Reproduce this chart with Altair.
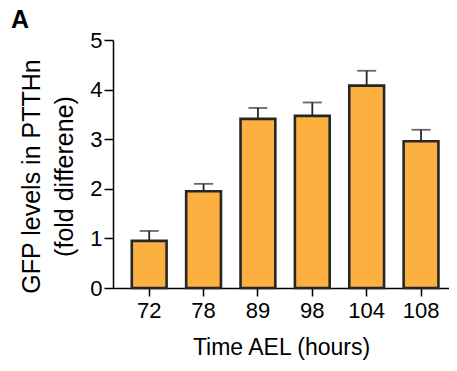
import altair as alt
import pandas as pd

times = ["72", "78", "89", "98", "104", "108"]
means = [0.95, 1.95, 3.41, 3.47, 4.08, 2.96]
upper = [1.15, 2.10, 3.63, 3.74, 4.38, 3.19]

df = pd.DataFrame({"time": times, "mean": means, "upper": upper})

FONT = "Liberation Sans"
DARK = "#262626"

x = alt.X(
    "time:N",
    sort=times,
    scale=alt.Scale(paddingInner=0.36, paddingOuter=0.27, align=0.64),
    axis=alt.Axis(
        title="Time AEL (hours)",
        labelAngle=0,
        labelAlign="center",
        labelBaseline="top",
        labelFontSize=22,
        labelFont=FONT,
        labelColor="#000000",
        labelPadding=4,
        titleFontSize=23,
        titleFont=FONT,
        titleFontWeight="normal",
        titleColor="#000000",
        titlePadding=15,
        tickSize=8,
        tickWidth=1.5,
        tickColor="#000000",
        domainColor="#000000",
        domainWidth=1.5,
    ),
)

y_axis = alt.Axis(
    title=["GFP levels in PTTHn", "(fold differene)"],
    values=[0, 1, 2, 3, 4, 5],
    grid=False,
    labelFontSize=22,
    labelFont=FONT,
    labelColor="#000000",
    labelPadding=2,
    titleFontSize=25,
    titleFont=FONT,
    titleFontWeight="normal",
    titleColor="#000000",
    titleLineHeight=33,
    titlePadding=12,
    titleY=136,
    tickSize=9,
    tickWidth=1.5,
    tickColor="#000000",
    domainColor="#000000",
    domainWidth=1.5,
)

bars = alt.Chart(df).mark_bar(
    color="#FBB040", stroke=DARK, strokeWidth=2.6
).encode(
    x=x,
    y=alt.Y("mean:Q", scale=alt.Scale(domain=[0, 5], nice=False), axis=y_axis),
)

rules = alt.Chart(df).mark_rule(color=DARK, strokeWidth=1.8).encode(
    x=alt.X("time:N", sort=times),
    y="mean:Q",
    y2="upper:Q",
)

caps = alt.Chart(df).mark_tick(color=DARK, thickness=1.8, size=19).encode(
    x=alt.X("time:N", sort=times),
    y="upper:Q",
)

chart = (
    alt.layer(rules, bars, caps)
    .properties(
        width=336,
        height=248,
        autosize=alt.AutoSizeParams(type="none"),
        padding={"left": 105, "top": 32, "right": 0, "bottom": 75},
        title=alt.TitleParams(
            text="A",
            anchor="start",
            frame="group",
            fontSize=25,
            font=FONT,
            fontWeight="bold",
            color="#000000",
            dx=-102,
            dy=6,
            offset=2,
        ),
    )
    .configure_view(stroke=None)
)

chart.save("out.html", embed_options={"renderer": "svg", "actions": False})
